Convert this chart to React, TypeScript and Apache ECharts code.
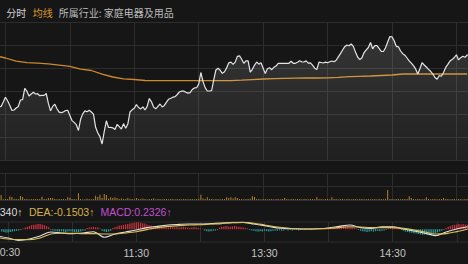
import React, { useEffect, useRef } from "react";
import * as echarts from "echarts";

// ---- data (minutes relative to 10:30, one point per minute from -3) ----
const PRICE_START = -3;
const priceValues = [
  53, 53.6, 58, 62.8, 59.3, 54.8, 49.7, 50, 52, 53.5,
  60, 60.3, 71.7, 68.8, 64, 66, 67.7, 66, 66.3, 64.3,
  64.7, 64.6, 66.5, 56.6, 49.2, 53.6, 55.8, 51.3, 47.9, 47.3,
  48.1, 49.5, 49.7, 44.6, 39.4, 37.6, 35.3, 29.5, 40.7, 46.1,
  49.1, 48.3, 49.8, 48, 45.8, 32.7, 27.3, 23.4, 16, 28.3,
  39.2, 32.5, 32.7, 32.2, 30.6, 35.6, 33.4, 31, 36.4, 31.7,
  35.9, 48, 50.2, 51.8, 55.4, 52.5, 51.1, 53.1, 50, 53.6,
  61.5, 58.2, 52.9, 51.2, 53.6, 56, 53, 54.6, 57.8, 60.8,
  61.7, 62.8, 63.3, 65.5, 68, 69, 68.9, 67.8, 66.9, 67.4,
  70.5, 72.1, 72.3, 75.9, 87.5, 78.4, 72.4, 69, 69, 69.3,
  80.2, 90, 91.7, 89.7, 86.7, 88.2, 92.1, 97.2, 97.8, 95.6,
  97.9, 103.6, 104.2, 100.8, 96.7, 99.1, 99.2, 87.9, 90.7, 94.9,
  98, 95.8, 97.2, 91.8, 86.4, 91.2, 92.2, 90.3, 92.7, 93.9,
  96.7, 96.7, 96.7, 96.7, 96.7, 96.7, 98.7, 96.7, 96.7, 97.8,
  99.2, 98.2, 98, 99.1, 96.8, 97.1, 94.8, 91.8, 90.5, 97.9,
  97.5, 97, 97.9, 97.2, 98.3, 99, 98.3, 99.7, 103.1, 106.4,
  110, 113.3, 115, 114.3, 116, 113.6, 107.9, 103, 100.4, 102.3,
  107.4, 110.2, 112.5, 117.5, 111.2, 114.5, 114.3, 111.6, 108.7, 108.5,
  112.3, 118, 123.5, 123.1, 119.3, 113.7, 113.2, 109, 106.3, 104.8,
  102, 99.1, 96.8, 94.3, 91.1, 86, 91.2, 97.3, 95, 93,
  90.6, 88.7, 86, 82.5, 80.7, 84.5, 83.8, 87.5, 92.6, 95.7,
  98.9, 100.4, 102.5, 105.2, 100.1, 102.3, 103.8, 102.7, 105, 105,
];

// average line, one point every 5 minutes from -5
const AVG_START = -5;
const AVG_STEP = 5;
const avgValues = [
  104.5, 102, 98.8, 97.3, 96.8, 96.1, 94.9, 93.6, 90.9, 89.5,
  85.9, 83, 81.2, 80.5, 79.5, 79.3, 79.3, 79.3, 79.3, 79.3,
  79.3, 79.3, 79.3, 79.8, 80.4, 81, 81.4, 81.6, 81.8, 82,
  82, 82.2, 82.7, 83.4, 83.7, 84, 84.5, 85, 86, 86,
  86, 86, 86, 86, 86,
];

const volumeValues = [
  90, 500, 80, 100, 90, 350, 300, 120, 90, 100,
  400, 300, 100, 90, 80, 100, 90, 110, 90, 100,
  330, 100, 90, 200, 200, 200, 90, 80, 100, 90,
  100, 80, 270, 220, 90, 100, 80, 670, 90, 60,
  80, 130, 90, 80, 100, 430, 300, 530, 200, 600,
  500, 120, 270, 200, 270, 200, 100, 150, 90, 100,
  200, 90, 100, 80, 200, 90, 100, 150, 90, 80,
  100, 90, 170, 80, 100, 90, 80, 100, 90, 80,
  100, 90, 80, 100, 90, 80, 100, 90, 80, 100,
  90, 80, 100, 120, 530, 150, 90, 270, 100, 90,
  80, 100, 90, 80, 100, 90, 270, 200, 270, 150,
  270, 200, 100, 90, 80, 100, 90, 120, 370, 300,
  100, 90, 80, 100, 90, 80, 100, 90, 80, 100,
  90, 80, 100, 200, 90, 80, 100, 90, 80, 100,
  90, 80, 100, 90, 80, 100, 90, 80, 270, 100,
  90, 80, 100, 90, 80, 270, 100, 90, 80, 100,
  90, 80, 100, 90, 80, 100, 90, 80, 100, 90,
  80, 100, 90, 80, 100, 90, 80, 100, 90, 80,
  120, 1000, 100, 90, 80, 100, 90, 80, 100, 90,
  100, 370, 200, 90, 80, 100, 90, 80, 100, 270,
  90, 80, 100, 90, 80, 100, 90, 200, 100, 90,
  80, 100, 90, 80, 100, 90, 80, 100, 90, 80,
];

const macdHist = [
  -0.06, -0.07, -0.08, -0.08, -0.07, -0.06, -0.05, -0.04, -0.03, -0.02,
  0.02, 0.04, 0.06, 0.08, 0.1, 0.11, 0.12, 0.13, 0.13, 0.12,
  0.1, 0.08, 0.05, -0.02, -0.03, -0.04, -0.05, -0.06, -0.05, -0.06,
  -0.07, -0.06, -0.05, -0.06, -0.07, -0.08, -0.07, -0.06, -0.04, -0.03,
  0.03, 0.04, 0.05, 0.06, 0.05, 0.04, 0.02, -0.04, -0.06, -0.07,
  -0.06, -0.04, 0.03, 0.05, 0.07, 0.09, 0.1, 0.11, 0.12, 0.13,
  0.14, 0.15, 0.16, 0.17, 0.17, 0.16, 0.15, 0.14, 0.12, 0.1,
  0.09, 0.08, 0.07, 0.06, 0.05, 0.06, 0.05, 0.04, 0.05, 0.06,
  0.05, 0.04, 0.05, 0.04, 0.05, 0.06, 0.05, 0.04, 0.03, 0.04,
  0.05, 0.04, 0.03, 0.02, 0.01, -0.03, -0.05, -0.06, -0.05, -0.04,
  -0.03, -0.02, 0.04, 0.06, 0.07, 0.08, 0.07, 0.06, 0.07, 0.08,
  0.07, 0.06, 0.05, 0.04, 0.03, 0.02, -0.02, -0.03, -0.04, -0.05,
  -0.06, -0.05, -0.06, -0.04, -0.05, -0.06, -0.05, -0.04, -0.03, -0.04,
  -0.03, -0.04, -0.03, -0.02, -0.03, -0.02, -0.03, -0.02, -0.02, -0.03,
  -0.02, -0.01, -0.02, -0.01, 0.01, -0.01, 0.01, 0.02, 0.01, 0.02,
  0.01, 0.02, 0.01, 0.02, 0.03, 0.04, 0.05, 0.06, 0.07, 0.08,
  0.08, 0.09, 0.08, 0.07, 0.06, 0.04, 0.02, -0.02, -0.04, -0.05,
  -0.06, -0.07, -0.06, -0.05, -0.06, -0.05, -0.04, -0.05, -0.04, -0.03,
  -0.02, 0.02, 0.03, 0.04, 0.05, 0.04, 0.02, -0.02, -0.04, -0.06,
  -0.07, -0.08, -0.09, -0.1, -0.11, -0.12, -0.13, -0.14, -0.13, -0.14,
  -0.13, -0.12, -0.11, -0.1, -0.08, -0.06, -0.04, -0.02, 0.03, 0.06,
  0.08, 0.1, 0.11, 0.12, 0.13, 0.12, 0.13, 0.12, 0.11, 0.1,
];

// DIF / DEA, one point every 5 minutes from -5
const difValues = [
  -0.17, -0.22, -0.28, -0.245, -0.17, -0.07, -0.095, -0.11, -0.095, -0.0625,
  -0.2, -0.12, -0.07, -0.02, 0.04, 0.07, 0.105, 0.12, 0.13, 0.13,
  0.14, 0.155, 0.16, 0.17, 0.13, 0.09, 0.04, 0.02, 0.01, 0.005,
  0.01, 0.03, 0.07, 0.105, 0.04, 0.02, 0.06, 0.06, 0.005, -0.045,
  -0.1, -0.16, -0.07, 0.005, 0.06,
];
const deaValues = [
  -0.21, -0.245, -0.26, -0.26, -0.22, -0.12, -0.1, -0.1, -0.11, -0.11,
  -0.12, -0.12, -0.095, -0.0625, -0.01, 0.04, 0.07, 0.09, 0.105, 0.11,
  0.13, 0.14, 0.17, 0.17, 0.15, 0.105, 0.06, 0.03, 0.01, 0.005,
  0.01, 0.02, 0.04, 0.06, 0.055, 0.04, 0.04, 0.04, 0.02, -0.02,
  -0.07, -0.12, -0.11, -0.06, 0,
];

// tick labels: the first one is only partly inside the picture ("0:30")
const xLabelMinutes = [60, 120, 180];
const xLabelTexts = ["11:30", "13:30", "14:30"];
const edgeTimeLabel = "0:30";

const headerTexts = ["分时", "均线", "所属行业: 家庭电器及用品"];
const macdTexts = ["340↑", "DEA:-0.1503↑", "MACD:0.2326↑"];

// ---- layout ----
const PX_PER_MIN = 2.1476;
const X_MIN = -30;
const X_MAX = 240;
const FIRST_LINE_X = 5.7;
const OFF = -(FIRST_LINE_X + X_MIN * PX_PER_MIN); // chart div is shifted left by this
const GRID_W = (X_MAX - X_MIN) * PX_PER_MIN;
const BG = "#161616";
const GRID_COLOR = "#2d2d2d";
const FONT_CJK = "'Noto Sans CJK SC', 'Noto Sans', sans-serif";
const FONT_LAT = "'Liberation Sans', 'DejaVu Sans', sans-serif";

export default function App() {
  const ref = useRef<HTMLDivElement>(null);

  useEffect(() => {
    if (!ref.current) return;
    const chart = echarts.init(ref.current, undefined, { renderer: "svg" });

    const priceData = priceValues.map((v, i) => [PRICE_START + i, v]);
    const avgData = avgValues.map((v, i) => [AVG_START + i * AVG_STEP, v]);
    const volData = volumeValues.map((v, i) => [PRICE_START + i, v]);
    const histData = macdHist.map((v, i) => [PRICE_START + i, v]);
    const difData = difValues.map((v, i) => [AVG_START + i * AVG_STEP, v]);
    const deaData = deaValues.map((v, i) => [AVG_START + i * AVG_STEP, v]);

    const labelMap: Record<number, string> = {};
    xLabelMinutes.forEach((m, i) => (labelMap[m] = xLabelTexts[i]));

    const mkX = (gridIndex: number, showLabel: boolean) => ({
      type: "value",
      gridIndex,
      min: X_MIN,
      max: X_MAX,
      interval: 30,
      axisLine: { show: false },
      axisTick: { show: false },
      splitLine: { show: true, lineStyle: { color: GRID_COLOR, width: 1 } },
      axisLabel: showLabel
        ? {
            show: true,
            margin: 5,
            color: "#c4c4c4",
            fontSize: 10.5,
            fontFamily: FONT_LAT,
            formatter: (v: number) => labelMap[v] ?? "",
          }
        : { show: false },
    });

    const headerColors = ["#d2d2d2", "#d99a2e", "#bdbdbd"];
    const headerX = [6.5, 33, 59];
    const macdColors = ["#dcdcdc", "#d8b24a", "#c24fd2"];
    const macdX = [0, 29.3, 100.7];

    const graphic: any[] = [];
    headerTexts.forEach((t, i) =>
      graphic.push({
        type: "text",
        x: OFF + headerX[i],
        y: 12,
        style: {
          text: t,
          fill: headerColors[i],
          fontSize: 10,
          fontFamily: FONT_CJK,
          verticalAlign: "middle",
        },
      })
    );
    macdTexts.forEach((t, i) =>
      graphic.push({
        type: "text",
        x: OFF + macdX[i],
        y: 211.5,
        style: {
          text: t,
          fill: macdColors[i],
          fontSize: 10.5,
          fontFamily: FONT_LAT,
          align: "left",
          verticalAlign: "middle",
        },
      })
    );
    graphic.push({
      type: "text",
      x: OFF + 0,
      y: 252,
      style: {
        text: edgeTimeLabel,
        fill: "#c4c4c4",
        fontSize: 10.5,
        fontFamily: FONT_LAT,
        align: "left",
        verticalAlign: "middle",
      },
    });

    chart.setOption({
      animation: false,
      backgroundColor: BG,
      graphic,
      grid: [
        { left: 0, width: GRID_W, top: 22, height: 138 },
        { left: 0, width: GRID_W, top: 173, height: 27 },
        {
          left: 0,
          width: GRID_W,
          top: 222,
          height: 20,
          show: true,
          borderColor: GRID_COLOR,
          borderWidth: 1,
          backgroundColor: "transparent",
        },
      ],
      xAxis: [mkX(0, false), mkX(1, false), mkX(2, true)],
      yAxis: [
        {
          type: "value",
          gridIndex: 0,
          min: 0,
          max: 138,
          interval: 23,
          axisLine: { show: false },
          axisTick: { show: false },
          axisLabel: { show: false },
          splitLine: { show: true, lineStyle: { color: GRID_COLOR } },
        },
        {
          type: "value",
          gridIndex: 1,
          min: 0,
          max: 2700,
          interval: 1350,
          axisLine: { show: false },
          axisTick: { show: false },
          axisLabel: { show: false },
          splitLine: { show: true, lineStyle: { color: GRID_COLOR } },
        },
        {
          type: "value",
          gridIndex: 2,
          min: -0.32,
          max: 0.18,
          axisLine: { show: false },
          axisTick: { show: false },
          axisLabel: { show: false },
          splitLine: { show: false },
        },
      ],
      series: [
        {
          type: "line",
          xAxisIndex: 0,
          yAxisIndex: 0,
          data: priceData,
          showSymbol: false,
          z: 4,
          lineStyle: { color: "#e4e4e4", width: 1.2 },
          areaStyle: {
            origin: "start",
            color: new echarts.graphic.LinearGradient(0, 0, 0, 1, [
              { offset: 0, color: "rgba(255,255,255,0.19)" },
              { offset: 1, color: "rgba(255,255,255,0.06)" },
            ]),
          },
        },
        {
          type: "line",
          xAxisIndex: 0,
          yAxisIndex: 0,
          data: avgData,
          showSymbol: false,
          z: 3,
          lineStyle: { color: "#c98a2c", width: 1.3 },
        },
        {
          type: "bar",
          xAxisIndex: 1,
          yAxisIndex: 1,
          data: volData,
          barWidth: 1,
          itemStyle: { color: "#b8832f" },
        },
        {
          type: "bar",
          xAxisIndex: 2,
          yAxisIndex: 2,
          data: histData,
          barWidth: 1.3,
          itemStyle: {
            color: (p: any) => (p.value[1] >= 0 ? "#c4323c" : "#2a9c9a"),
          },
        },
        {
          type: "line",
          xAxisIndex: 2,
          yAxisIndex: 2,
          data: difData,
          showSymbol: false,
          smooth: 0.3,
          z: 4,
          lineStyle: { color: "#e2e2e2", width: 1.1 },
        },
        {
          type: "line",
          xAxisIndex: 2,
          yAxisIndex: 2,
          data: deaData,
          showSymbol: false,
          smooth: 0.3,
          z: 4,
          lineStyle: { color: "#dcc05a", width: 1.1 },
        },
      ],
    });

    return () => chart.dispose();
  }, []);

  return (
    <div
      style={{
        position: "fixed",
        left: 0,
        top: 0,
        width: 468,
        height: 264,
        overflow: "hidden",
        background: BG,
      }}
    >
      <div
        ref={ref}
        style={{
          position: "absolute",
          left: -OFF,
          top: 0,
          width: Math.ceil(GRID_W) + 4,
          height: 264,
        }}
      />
    </div>
  );
}
